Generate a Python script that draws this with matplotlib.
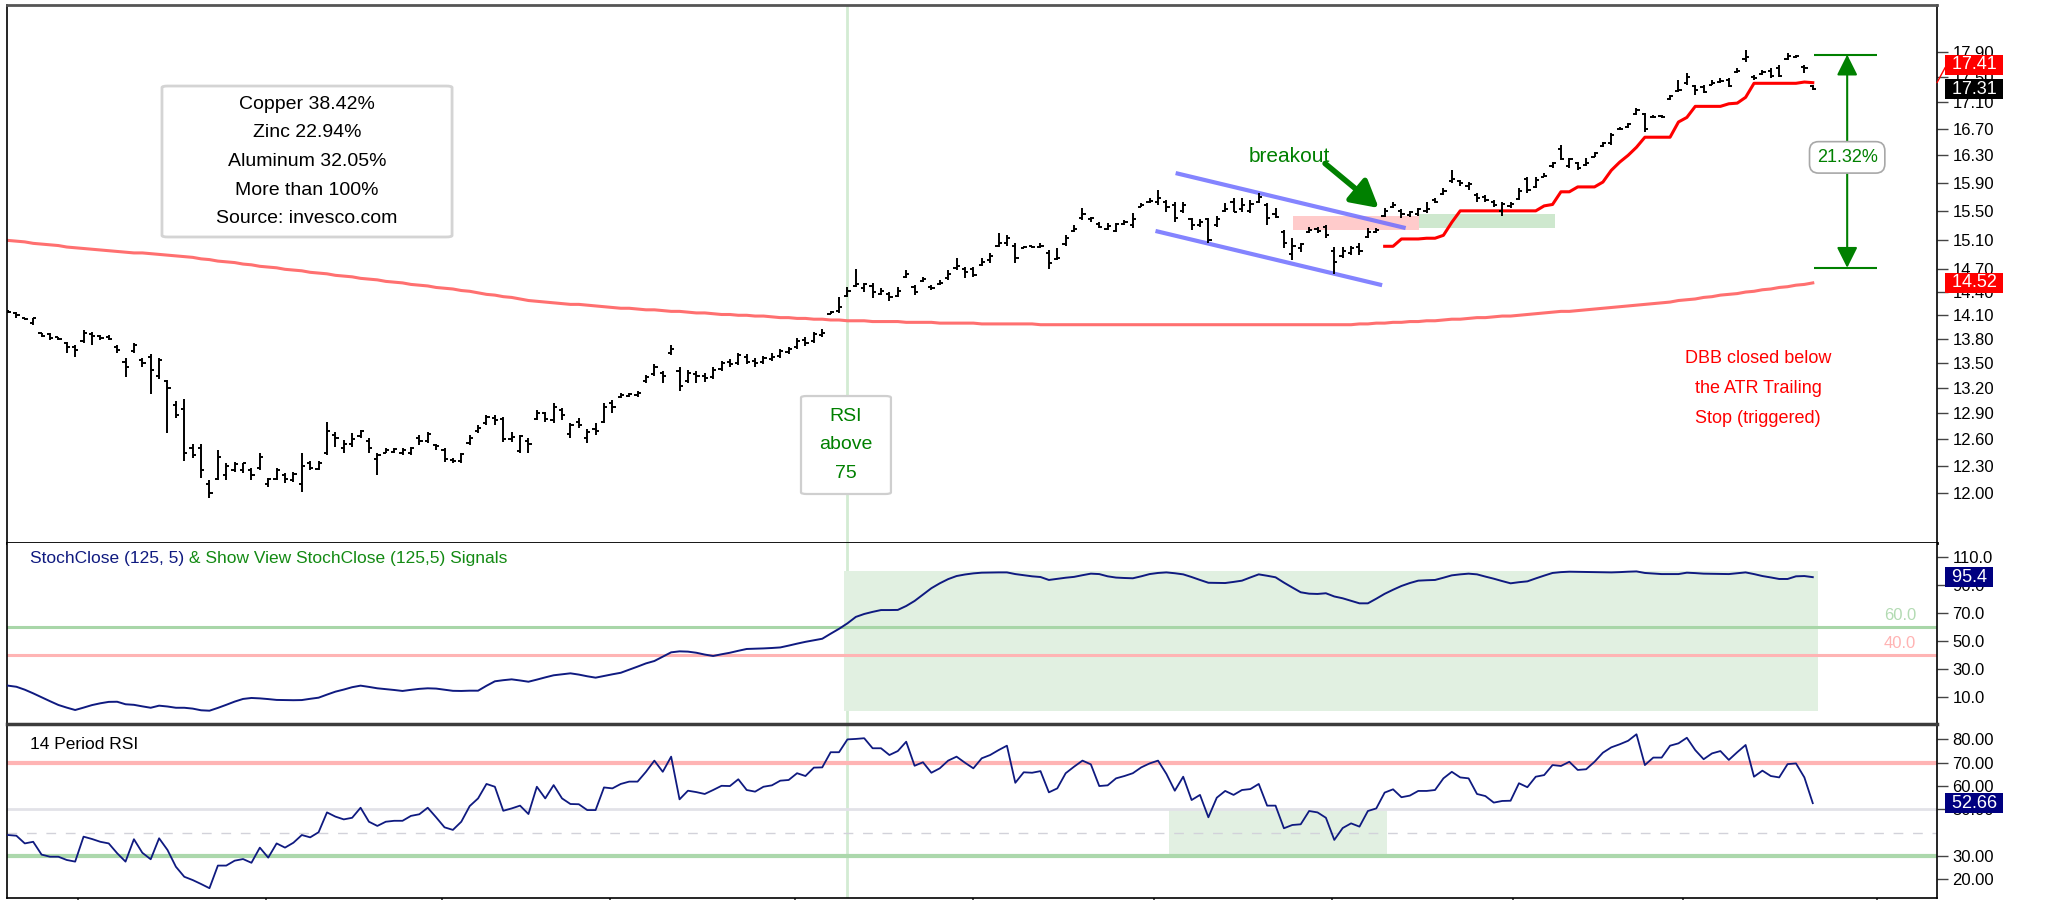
import matplotlib
matplotlib.use("Agg")
import matplotlib.pyplot as plt
from matplotlib.collections import LineCollection
from matplotlib.patches import FancyBboxPatch
from matplotlib.ticker import FixedLocator, FormatStrFormatter, NullLocator
from matplotlib.transforms import Bbox, TransformedBbox

plt.rcParams['font.family'] = ['Liberation Sans', 'DejaVu Sans']

# ---------------- daily OHLC (DBB) ----------------
opens = [
    14.16, 14.13, 14.06, 14.00, 13.87, 13.86, 13.82, 13.75, 13.70, 13.77,
    13.86, 13.84, 13.82, 13.70, 13.52, 13.65, 13.54, 13.58, 13.35, 13.28,
    13.00, 12.95, 12.50, 12.50, 12.10, 12.15, 12.20, 12.26, 12.25, 12.26,
    12.28, 12.10, 12.16, 12.20, 12.14, 12.10, 12.33, 12.27, 12.45, 12.65,
    12.50, 12.55, 12.64, 12.58, 12.38, 12.45, 12.46, 12.45, 12.44, 12.62,
    12.58, 12.54, 12.48, 12.37, 12.35, 12.56, 12.69, 12.79, 12.85, 12.84,
    12.60, 12.47, 12.58, 12.84, 12.90, 12.82, 12.94, 12.66, 12.80, 12.62,
    12.72, 12.80, 13.02, 13.09, 13.10, 13.12, 13.28, 13.37, 13.38, 13.62,
    13.40, 13.28, 13.37, 13.35, 13.33, 13.43, 13.52, 13.50, 13.58, 13.53,
    13.51, 13.55, 13.59, 13.64, 13.70, 13.79, 13.77, 13.85, 14.12, 14.15,
    14.35, 14.48, 14.45, 14.48, 14.38, 14.38, 14.35, 14.60, 14.46, 14.55,
    14.47, 14.50, 14.58, 14.72, 14.70, 14.70, 14.76, 14.82, 15.02, 15.05,
    15.02, 14.99, 15.01, 15.00, 14.92, 14.84, 15.04, 15.22, 15.40, 15.38,
    15.32, 15.25, 15.22, 15.32, 15.30, 15.56, 15.62, 15.62, 15.62, 15.58,
    15.50, 15.38, 15.30, 15.38, 15.30, 15.50, 15.62, 15.52, 15.50, 15.63,
    15.58, 15.45, 15.20, 14.90, 14.98, 15.21, 15.25, 15.28, 14.95, 14.88,
    14.92, 15.00, 15.14, 15.21, 15.43, 15.56, 15.50, 15.44, 15.46, 15.50,
    15.65, 15.74, 15.92, 15.92, 15.85, 15.72, 15.70, 15.62, 15.50, 15.57,
    15.67, 15.95, 15.84, 15.99, 16.14, 16.40, 16.14, 16.18, 16.16, 16.28,
    16.44, 16.48, 16.69, 16.73, 16.93, 16.92, 16.87, 16.89, 17.16, 17.28,
    17.40, 17.35, 17.34, 17.38, 17.42, 17.46, 17.58, 17.78, 17.50, 17.55,
    17.60, 17.65, 17.78, 17.82, 17.66, 17.35,
]
highs = [
    14.17, 14.14, 14.07, 14.07, 13.88, 13.88, 13.83, 13.76, 13.73, 13.91,
    13.89, 13.85, 13.85, 13.72, 13.56, 13.75, 13.56, 13.61, 13.56, 13.30,
    13.05, 13.07, 12.55, 12.55, 12.14, 12.48, 12.33, 12.34, 12.33, 12.28,
    12.44, 12.17, 12.28, 12.22, 12.23, 12.45, 12.36, 12.36, 12.80, 12.68,
    12.59, 12.67, 12.71, 12.61, 12.44, 12.50, 12.50, 12.50, 12.51, 12.65,
    12.68, 12.55, 12.50, 12.39, 12.45, 12.65, 12.77, 12.88, 12.88, 12.86,
    12.68, 12.65, 12.61, 12.94, 12.92, 13.02, 12.96, 12.79, 12.85, 12.72,
    12.79, 13.02, 13.06, 13.14, 13.14, 13.17, 13.36, 13.49, 13.40, 13.72,
    13.45, 13.42, 13.40, 13.38, 13.45, 13.53, 13.55, 13.63, 13.61, 13.56,
    13.59, 13.62, 13.68, 13.70, 13.81, 13.82, 13.89, 13.92, 14.16, 14.33,
    14.46, 14.71, 14.52, 14.52, 14.45, 14.40, 14.46, 14.69, 14.49, 14.60,
    14.49, 14.56, 14.69, 14.85, 14.73, 14.73, 14.85, 14.92, 15.19, 15.16,
    15.05, 15.02, 15.02, 15.06, 14.96, 14.98, 15.16, 15.30, 15.54, 15.42,
    15.34, 15.33, 15.33, 15.37, 15.47, 15.61, 15.68, 15.79, 15.65, 15.62,
    15.62, 15.40, 15.39, 15.40, 15.43, 15.61, 15.68, 15.68, 15.65, 15.76,
    15.61, 15.54, 15.23, 15.12, 15.06, 15.27, 15.27, 15.30, 15.00, 15.00,
    15.02, 15.05, 15.26, 15.26, 15.54, 15.62, 15.53, 15.50, 15.54, 15.62,
    15.68, 15.82, 16.08, 15.94, 15.91, 15.75, 15.72, 15.65, 15.62, 15.62,
    15.82, 15.98, 15.98, 16.04, 16.20, 16.46, 16.26, 16.20, 16.26, 16.35,
    16.50, 16.64, 16.73, 16.79, 17.01, 16.94, 16.91, 16.91, 17.22, 17.45,
    17.56, 17.37, 17.37, 17.45, 17.48, 17.48, 17.64, 17.93, 17.53, 17.61,
    17.64, 17.69, 17.88, 17.85, 17.69, 17.37,
]
lows = [
    14.13, 14.07, 14.04, 13.98, 13.82, 13.79, 13.79, 13.63, 13.58, 13.75,
    13.73, 13.79, 13.79, 13.63, 13.33, 13.63, 13.45, 13.13, 13.31, 12.67,
    12.85, 12.36, 12.39, 12.17, 11.95, 12.14, 12.14, 12.23, 12.22, 12.14,
    12.25, 12.07, 12.14, 12.11, 12.12, 12.01, 12.25, 12.25, 12.42, 12.51,
    12.45, 12.51, 12.62, 12.45, 12.20, 12.44, 12.44, 12.42, 12.42, 12.54,
    12.56, 12.48, 12.34, 12.33, 12.33, 12.54, 12.67, 12.77, 12.77, 12.57,
    12.57, 12.44, 12.45, 12.82, 12.80, 12.79, 12.82, 12.62, 12.73, 12.56,
    12.65, 12.79, 12.90, 13.08, 13.09, 13.09, 13.26, 13.35, 13.26, 13.60,
    13.17, 13.26, 13.26, 13.27, 13.31, 13.40, 13.45, 13.48, 13.49, 13.46,
    13.49, 13.53, 13.57, 13.61, 13.68, 13.71, 13.75, 13.82, 14.11, 14.13,
    14.33, 14.46, 14.40, 14.32, 14.36, 14.29, 14.33, 14.58, 14.36, 14.53,
    14.43, 14.49, 14.56, 14.69, 14.58, 14.60, 14.75, 14.79, 15.00, 15.02,
    14.79, 14.98, 14.98, 14.98, 14.71, 14.82, 15.02, 15.20, 15.37, 15.34,
    15.26, 15.23, 15.20, 15.30, 15.26, 15.55, 15.61, 15.58, 15.48, 15.34,
    15.47, 15.23, 15.27, 15.06, 15.27, 15.48, 15.48, 15.48, 15.47, 15.61,
    15.30, 15.40, 14.98, 14.82, 14.93, 15.19, 15.19, 15.13, 14.64, 14.85,
    14.89, 14.89, 15.12, 15.19, 15.41, 15.54, 15.40, 15.42, 15.43, 15.47,
    15.61, 15.72, 15.90, 15.86, 15.79, 15.62, 15.62, 15.56, 15.43, 15.54,
    15.65, 15.76, 15.82, 15.98, 16.12, 16.23, 16.11, 16.08, 16.15, 16.27,
    16.42, 16.46, 16.68, 16.71, 16.91, 16.65, 16.86, 16.86, 17.14, 17.26,
    17.37, 17.22, 17.25, 17.37, 17.40, 17.34, 17.56, 17.74, 17.45, 17.53,
    17.48, 17.50, 17.77, 17.80, 17.56, 17.29,
]
closes = [
    14.14, 14.10, 14.05, 14.06, 13.84, 13.81, 13.80, 13.70, 13.66, 13.88,
    13.84, 13.81, 13.80, 13.66, 13.45, 13.72, 13.50, 13.42, 13.54, 13.20,
    12.88, 12.45, 12.42, 12.25, 12.00, 12.40, 12.30, 12.32, 12.33, 12.20,
    12.40, 12.15, 12.25, 12.16, 12.21, 12.30, 12.28, 12.33, 12.70, 12.62,
    12.55, 12.60, 12.70, 12.50, 12.42, 12.48, 12.49, 12.48, 12.50, 12.58,
    12.66, 12.52, 12.38, 12.35, 12.43, 12.62, 12.73, 12.86, 12.82, 12.60,
    12.63, 12.64, 12.55, 12.90, 12.83, 12.98, 12.88, 12.76, 12.76, 12.68,
    12.69, 12.98, 12.97, 13.12, 13.13, 13.14, 13.33, 13.46, 13.35, 13.68,
    13.22, 13.38, 13.34, 13.32, 13.42, 13.50, 13.49, 13.60, 13.52, 13.50,
    13.56, 13.58, 13.65, 13.67, 13.78, 13.75, 13.86, 13.88, 14.14, 14.20,
    14.42, 14.50, 14.51, 14.40, 14.41, 14.33, 14.42, 14.64, 14.40, 14.57,
    14.45, 14.52, 14.64, 14.74, 14.66, 14.62, 14.80, 14.88, 15.05, 15.12,
    14.85, 15.00, 15.00, 15.02, 14.78, 14.85, 15.12, 15.25, 15.45, 15.40,
    15.28, 15.29, 15.32, 15.35, 15.38, 15.58, 15.64, 15.68, 15.55, 15.40,
    15.58, 15.30, 15.35, 15.10, 15.38, 15.52, 15.49, 15.58, 15.60, 15.70,
    15.40, 15.42, 15.05, 15.02, 15.04, 15.24, 15.22, 15.16, 14.80, 14.95,
    14.99, 14.95, 15.20, 15.23, 15.50, 15.58, 15.45, 15.48, 15.52, 15.53,
    15.63, 15.78, 15.95, 15.90, 15.88, 15.68, 15.66, 15.58, 15.60, 15.60,
    15.78, 15.80, 15.94, 16.00, 16.18, 16.24, 16.25, 16.12, 16.18, 16.33,
    16.48, 16.60, 16.70, 16.77, 16.98, 16.70, 16.88, 16.88, 17.20, 17.30,
    17.50, 17.30, 17.26, 17.40, 17.44, 17.36, 17.60, 17.82, 17.48, 17.58,
    17.52, 17.51, 17.84, 17.84, 17.64, 17.31,
]

# 200-day simple moving average
sma200 = [
    15.09, 15.08, 15.07, 15.05, 15.04, 15.03, 15.02, 15.00, 14.99, 14.98,
    14.97, 14.96, 14.95, 14.94, 14.93, 14.92, 14.92, 14.91, 14.90, 14.89,
    14.88, 14.87, 14.86, 14.84, 14.83, 14.81, 14.80, 14.79, 14.77, 14.76,
    14.74, 14.73, 14.72, 14.70, 14.69, 14.68, 14.66, 14.65, 14.64, 14.62,
    14.61, 14.60, 14.58, 14.57, 14.56, 14.54, 14.53, 14.52, 14.50, 14.49,
    14.48, 14.46, 14.45, 14.44, 14.42, 14.41, 14.39, 14.37, 14.36, 14.34,
    14.33, 14.31, 14.29, 14.28, 14.27, 14.26, 14.25, 14.24, 14.24, 14.23,
    14.22, 14.21, 14.20, 14.19, 14.19, 14.18, 14.17, 14.17, 14.16, 14.15,
    14.15, 14.14, 14.13, 14.13, 14.12, 14.11, 14.11, 14.10, 14.10, 14.09,
    14.09, 14.08, 14.07, 14.07, 14.06, 14.06, 14.05, 14.05, 14.04, 14.04,
    14.03, 14.03, 14.03, 14.02, 14.02, 14.02, 14.02, 14.01, 14.01, 14.01,
    14.01, 14.00, 14.00, 14.00, 14.00, 14.00, 13.99, 13.99, 13.99, 13.99,
    13.99, 13.99, 13.99, 13.98, 13.98, 13.98, 13.98, 13.98, 13.98, 13.98,
    13.98, 13.98, 13.98, 13.98, 13.98, 13.98, 13.98, 13.98, 13.98, 13.98,
    13.98, 13.98, 13.98, 13.98, 13.98, 13.98, 13.98, 13.98, 13.98, 13.98,
    13.98, 13.98, 13.98, 13.98, 13.98, 13.98, 13.98, 13.98, 13.98, 13.98,
    13.98, 13.99, 13.99, 14.00, 14.00, 14.01, 14.01, 14.02, 14.02, 14.03,
    14.03, 14.04, 14.05, 14.05, 14.06, 14.07, 14.07, 14.08, 14.09, 14.09,
    14.10, 14.11, 14.12, 14.13, 14.14, 14.15, 14.15, 14.16, 14.17, 14.18,
    14.19, 14.20, 14.21, 14.22, 14.23, 14.24, 14.25, 14.26, 14.27, 14.29,
    14.30, 14.31, 14.33, 14.34, 14.36, 14.37, 14.38, 14.40, 14.41, 14.43,
    14.44, 14.46, 14.47, 14.49, 14.50, 14.52,
]

# ATR trailing stop, starting at bar 164
atr_first_bar = 164
atr_stop = [
    15.01, 15.01, 15.11, 15.11, 15.11, 15.12, 15.12, 15.16, 15.34, 15.50,
    15.50, 15.50, 15.50, 15.50, 15.50, 15.50, 15.50, 15.50, 15.50, 15.57,
    15.59, 15.77, 15.77, 15.84, 15.84, 15.84, 15.91, 16.08, 16.20, 16.30,
    16.42, 16.57, 16.57, 16.57, 16.57, 16.80, 16.87, 17.04, 17.04, 17.04,
    17.04, 17.08, 17.09, 17.18, 17.40, 17.40, 17.40, 17.40, 17.40, 17.40,
    17.42, 17.41,
]

# StochClose (125, 5)
stoch = [
    17.9, 17.1, 15.0, 12.4, 9.6, 6.8, 4.1, 2.2, 0.5, 2.2,
    4.0, 5.3, 6.3, 6.4, 4.6, 4.2, 3.1, 2.1, 3.6, 3.0,
    2.1, 2.1, 1.5, 0.3, 0.0, 2.0, 4.2, 6.5, 8.4, 9.1,
    8.8, 8.3, 7.7, 7.6, 7.5, 7.6, 8.5, 9.3, 11.5, 13.6,
    15.1, 16.8, 17.9, 17.0, 16.0, 15.4, 14.8, 14.1, 14.9, 15.6,
    16.0, 15.8, 15.0, 14.2, 14.1, 14.3, 14.3, 17.8, 21.0, 21.8,
    22.4, 21.6, 20.7, 22.2, 23.8, 25.3, 26.0, 26.7, 25.8, 24.6,
    23.6, 24.8, 26.0, 27.1, 29.3, 31.5, 33.8, 35.5, 38.6, 41.7,
    42.4, 42.2, 41.4, 40.1, 39.1, 40.3, 41.4, 42.8, 44.1, 44.3,
    44.5, 44.8, 45.2, 46.5, 47.9, 49.2, 50.3, 51.4, 55.0, 58.5,
    62.4, 67.0, 69.1, 70.6, 71.9, 71.9, 72.0, 74.8, 78.4, 83.0,
    87.5, 91.0, 94.0, 96.2, 97.3, 98.1, 98.6, 98.7, 98.8, 98.8,
    97.6, 96.8, 96.0, 95.5, 93.4, 94.2, 95.0, 95.6, 96.8, 97.9,
    97.6, 96.0, 95.1, 94.8, 94.6, 96.0, 97.6, 98.4, 98.8, 98.2,
    97.4, 95.5, 93.4, 91.4, 91.3, 91.2, 92.0, 92.9, 95.2, 97.4,
    96.4, 95.3, 91.5, 88.0, 84.6, 83.6, 83.4, 83.9, 81.6, 80.3,
    78.5, 76.7, 76.7, 80.0, 83.5, 86.4, 89.1, 91.2, 92.9, 93.2,
    93.4, 95.0, 96.7, 97.4, 97.9, 97.4, 95.8, 94.3, 92.6, 91.0,
    91.8, 92.4, 94.5, 96.5, 98.4, 99.0, 99.3, 99.2, 99.1, 99.0,
    98.9, 98.8, 99.0, 99.3, 99.5, 98.4, 98.0, 97.6, 97.6, 97.6,
    98.6, 98.3, 97.9, 97.8, 97.7, 97.6, 98.2, 98.8, 97.6, 96.2,
    95.2, 94.1, 94.1, 96.0, 96.2, 95.4,
]

# 14-period RSI
rsi = [
    39.0, 38.7, 35.4, 36.1, 30.6, 29.7, 29.7, 28.3, 27.6, 38.3,
    37.3, 36.1, 35.4, 31.2, 27.6, 37.2, 31.4, 28.6, 37.6, 32.6,
    25.4, 21.1, 19.7, 18.0, 16.2, 25.9, 25.9, 28.0, 28.7, 27.1,
    33.6, 29.3, 35.4, 33.6, 35.7, 39.0, 38.0, 40.2, 48.7, 46.9,
    45.7, 46.4, 50.7, 44.7, 42.9, 44.7, 45.1, 45.1, 47.2, 47.9,
    50.7, 46.6, 42.3, 41.2, 44.7, 51.4, 54.7, 60.9, 59.7, 49.4,
    50.4, 51.6, 48.0, 59.7, 54.7, 60.4, 54.7, 52.3, 52.2, 49.7,
    49.7, 59.4, 59.0, 60.9, 61.9, 61.9, 66.1, 70.9, 66.1, 72.6,
    54.3, 58.0, 57.4, 56.6, 58.3, 60.1, 60.0, 62.9, 58.3, 57.6,
    59.7, 60.3, 62.3, 62.6, 65.5, 64.3, 67.9, 68.0, 74.5, 74.5,
    80.0, 80.2, 80.5, 76.2, 76.2, 73.3, 75.0, 79.0, 68.7, 70.2,
    65.7, 67.6, 70.9, 72.6, 70.0, 67.6, 71.9, 73.3, 75.4, 77.3,
    61.4, 65.9, 65.7, 66.4, 57.3, 59.0, 65.5, 68.3, 70.9, 69.3,
    60.0, 60.3, 63.3, 64.3, 65.5, 68.0, 69.7, 70.9, 65.2, 58.0,
    64.0, 54.0, 56.2, 46.6, 55.0, 57.9, 56.2, 58.3, 58.7, 60.9,
    51.6, 51.6, 41.9, 43.3, 43.6, 49.3, 48.7, 46.4, 36.9, 42.0,
    44.0, 42.6, 49.3, 50.4, 57.2, 58.6, 55.2, 55.9, 57.9, 57.9,
    58.3, 63.3, 66.1, 63.7, 63.3, 56.6, 55.7, 52.9, 53.6, 53.7,
    61.2, 59.5, 64.0, 64.7, 69.0, 68.6, 70.4, 66.9, 67.2, 70.4,
    74.3, 76.6, 77.9, 79.4, 82.2, 69.0, 72.2, 72.2, 77.3, 78.3,
    80.7, 75.4, 71.5, 74.0, 75.0, 71.2, 74.5, 77.6, 64.0, 66.6,
    64.3, 63.7, 69.4, 69.7, 63.7, 52.66,
]

# axis ticks
price_ticks = [12.00, 12.30, 12.60, 12.90, 13.20, 13.50, 13.80, 14.10, 14.40,
               14.70, 15.10, 15.50, 15.90, 16.30, 16.70, 17.10, 17.50, 17.90]
stoch_ticks = [110, 90, 70, 50, 30, 10, -10]
rsi_ticks = [80, 70, 60, 50, 30, 20]
month_starts = [8.3, 30.7, 51.7, 71.7, 93.7, 114.9, 136.5, 157.7, 179.3, 199.5, 222.6]

# annotations
info_lines = ["Copper 38.42%", "Zinc 22.94%", "Aluminum 32.05%",
              "More than 100%", "Source: invesco.com"]
signal_bar = 100
channel_upper = [(139.1, 16.04), (166.5, 15.26)]
channel_lower = [(136.7, 15.22), (163.7, 14.49)]
resistance_zone = (153.1, 168.1, 15.24, 15.43)
support_zone = (168.1, 184.3, 15.26, 15.46)
gain_low = 14.72
gain_pct = 21.32
rsi_pullback_zone = (138.3, 164.3, 30, 50)

NAVY = '#0f1a80'
GREEN = '#008000'

# ---------------- figure / panels ----------------
W, H = 2049, 900
fig = plt.figure(figsize=(W / 100, H / 100), dpi=100)


def panel(x0, y0, x1, y1):
    return fig.add_axes([x0 / W, 1 - y1 / H, (x1 - x0) / W, (y1 - y0) / H])


ax_p = panel(7, 5, 1937, 543)
ax_s = panel(7, 543, 1937, 724)
ax_r = panel(7, 724, 1937, 898)

n = len(closes)
bars = list(range(n))
for ax in (ax_p, ax_s, ax_r):
    ax.set_xlim(-0.12, 229.8)
    ax.yaxis.tick_right()
    ax.tick_params(axis='y', which='both', direction='out', length=8, width=1,
                   color='#444444', labelsize=12, pad=3)
    ax.tick_params(axis='x', which='both', length=0, labelbottom=False)
    for s in ax.spines.values():
        s.set_color('black')
        s.set_linewidth(1.2)
    ax.axvline(signal_bar, color='#d3ebd3', lw=2, zorder=0.5)

ax_p.spines['top'].set_color('#555555')
ax_p.spines['top'].set_linewidth(2)
ax_p.spines['bottom'].set_linewidth(2)
ax_s.spines['top'].set_visible(False)
ax_s.spines['bottom'].set_visible(False)
ax_r.spines['top'].set_color('#3c3c3c')
ax_r.spines['top'].set_linewidth(2.5)

# ---------------- price panel ----------------
ax_p.set_yscale('log')
ax_p.set_ylim(11.47, 18.68)
ax_p.yaxis.set_major_locator(FixedLocator(price_ticks))
ax_p.yaxis.set_major_formatter(FormatStrFormatter('%.2f'))
ax_p.yaxis.set_minor_locator(NullLocator())

w = 0.38
segs = []
for i in bars:
    segs.append([(i, lows[i]), (i, highs[i])])
    segs.append([(i - w, opens[i]), (i, opens[i])])
    segs.append([(i, closes[i]), (i + w, closes[i])])
ax_p.add_collection(LineCollection(segs, colors='black', linewidths=1.4, zorder=4))

ax_p.plot(bars, sma200, color='#ff7070', lw=2.2, zorder=2)
ax_p.plot(range(atr_first_bar, atr_first_bar + len(atr_stop)), atr_stop,
          color='#ff0000', lw=2.2, zorder=3)

for line in (channel_upper, channel_lower):
    xs, ys = zip(*line)
    ax_p.plot(xs, ys, color='#6e6eff', lw=3, alpha=0.85, solid_capstyle='butt', zorder=3)

x0, x1, lo, hi = resistance_zone
ax_p.fill_between([x0, x1], lo, hi, color='#ffb0b0', alpha=0.65, lw=0, zorder=2)
x0, x1, lo, hi = support_zone
ax_p.fill_between([x0, x1], lo, hi, color='#b5dcb5', alpha=0.65, lw=0, zorder=2)

ax_p.text(152.6, 16.29, 'breakout', color=GREEN, size=15, ha='center', va='center', zorder=6)
ax_p.annotate('', xy=(163.3, 15.54), xytext=(156.9, 16.18),
              arrowprops=dict(arrowstyle='-|>,head_length=0.9,head_width=0.5',
                              color=GREEN, lw=4, mutation_scale=18,
                              shrinkA=0, shrinkB=0), zorder=6)

# percentage gain measure
gain_high = gain_low * (1 + gain_pct / 100)
ax_p.hlines([gain_high, gain_low], 215.1, 222.7, color=GREEN, lw=1.5, zorder=5)
ax_p.annotate('', xy=(219.1, gain_high), xytext=(219.1, gain_low),
              arrowprops=dict(arrowstyle='<|-|>,head_length=0.9,head_width=0.45',
                              color=GREEN, lw=1.5, mutation_scale=14,
                              shrinkA=0, shrinkB=0), zorder=5)
ax_p.text(219.1, 16.27, f'{gain_pct:.2f}%', color=GREEN, size=13, ha='center', va='center',
          zorder=6, bbox=dict(boxstyle='round,pad=0.4,rounding_size=0.5', fc='white',
                              ec='#a8a8a8', lw=1.2))

# composition note
ax_p.add_patch(FancyBboxPatch((0.0803, 0.5688), 0.1503, 0.2806,
                              boxstyle='round,pad=0,rounding_size=0.003',
                              transform=ax_p.transAxes, fc='white', ec='#d4d4d4',
                              lw=2, zorder=5))
ax_p.text(0.1554, 0.709, '\n'.join(info_lines), transform=ax_p.transAxes,
          ha='center', va='center', size=14, linespacing=1.9, zorder=6)

# RSI signal note
ax_p.add_patch(FancyBboxPatch((0.4114, 0.0911), 0.0466, 0.1821,
                              boxstyle='round,pad=0,rounding_size=0.003',
                              transform=ax_p.transAxes, fc='white', ec='#cfcfcf',
                              lw=1.6, zorder=5))
ax_p.text(0.4347, 0.1822, 'RSI\nabove\n75', transform=ax_p.transAxes, color=GREEN,
          ha='center', va='center', size=14, linespacing=1.9, zorder=6)

ax_p.text(208.5, 13.19, 'DBB closed below\nthe ATR Trailing\nStop (triggered)',
          color='#ff0000', size=13, ha='center', va='center', linespacing=2.0, zorder=6)


def value_tag(ax, value, text, fc, dy=0.0, link=False):
    kw = {}
    if link:
        kw['arrowprops'] = dict(arrowstyle='-', color=fc, lw=1, shrinkA=0, shrinkB=0,
                                relpos=(0, 0.5))
    ax.annotate(f' {text} ', xy=(1, value), xycoords=ax.get_yaxis_transform(),
                xytext=(7.0, dy), textcoords='offset points', ha='left', va='center',
                color='white', size=13, annotation_clip=False, zorder=10,
                bbox=dict(boxstyle='square,pad=0.08', fc=fc, ec='none'), **kw)


value_tag(ax_p, atr_stop[-1], f'{atr_stop[-1]:.2f}', '#ff0000', dy=13, link=True)
value_tag(ax_p, closes[-1], f'{closes[-1]:.2f}', 'black')
value_tag(ax_p, sma200[-1], f'{sma200[-1]:.2f}', '#ff0000')

# ---------------- StochClose panel ----------------
ax_s.set_ylim(-9.5, 119.8)
ax_s.yaxis.set_major_locator(FixedLocator(stoch_ticks))
ax_s.yaxis.set_major_formatter(FormatStrFormatter('%.1f'))
ax_s.fill_between([signal_bar - 0.4, n - 0.4], 0, 100, color='#e1f0e1', lw=0, zorder=1)
ax_s.axhline(60, color='#a8d6a8', lw=2.2, zorder=2)
ax_s.axhline(40, color='#ffb4b4', lw=2.2, zorder=2)
ax_s.plot(bars, stoch, color=NAVY, lw=1.4, zorder=3)
ax_s.annotate('60.0', xy=(227.3, 60), xytext=(0, 3), textcoords='offset points',
              ha='right', va='bottom', color='#b3dbb3', size=12)
ax_s.annotate('40.0', xy=(227.3, 40), xytext=(0, 3), textcoords='offset points',
              ha='right', va='bottom', color='#ffb3b3', size=12)
t1 = ax_s.text(0.012, 0.875, 'StochClose (125, 5)', transform=ax_s.transAxes,
               color=NAVY, size=12.5, va='bottom')
ax_s.annotate(' & Show View StochClose (125,5) Signals', xy=(1, 0), xycoords=t1,
              color='#138a13', size=12.5, va='bottom')
value_tag(ax_s, stoch[-1], f'{stoch[-1]:.1f}', '#000080')

# keep stoch tick labels inside their own band
band = TransformedBbox(Bbox([[0, 1 - 724 / H], [1, 1 - 543 / H]]), fig.transFigure)
for lab in ax_s.get_yticklabels():
    lab.set_clip_box(band)
    lab.set_clip_on(True)

# ---------------- RSI panel ----------------
ax_r.set_ylim(12.0, 86.6)
ax_r.yaxis.set_major_locator(FixedLocator(rsi_ticks))
ax_r.yaxis.set_major_formatter(FormatStrFormatter('%.2f'))
x0, x1, lo, hi = rsi_pullback_zone
ax_r.fill_between([x0, x1], lo, hi, color='#e2f0e2', lw=0, zorder=1)
ax_r.axhline(70, color='#ffb4b4', lw=3, zorder=2)
ax_r.axhline(30, color='#acd8ac', lw=3, zorder=2)
ax_r.axhline(50, color='#e2e2e8', lw=2, zorder=2)
ax_r.axhline(40, color='#d2d2da', lw=1, ls=(0, (7, 7)), zorder=2)
ax_r.plot(bars, rsi, color=NAVY, lw=1.3, zorder=3)
ax_r.text(0.012, 0.88, '14 Period RSI', transform=ax_r.transAxes, color='black',
          size=12.5, va='center')
value_tag(ax_r, rsi[-1], f'{rsi[-1]:.2f}', '#000080')

ax_r.set_xticks(month_starts)
ax_r.tick_params(axis='x', length=6, width=1.2, color='#333333', direction='out',
                 labelbottom=False)

fig.savefig('out.png', dpi=100)
